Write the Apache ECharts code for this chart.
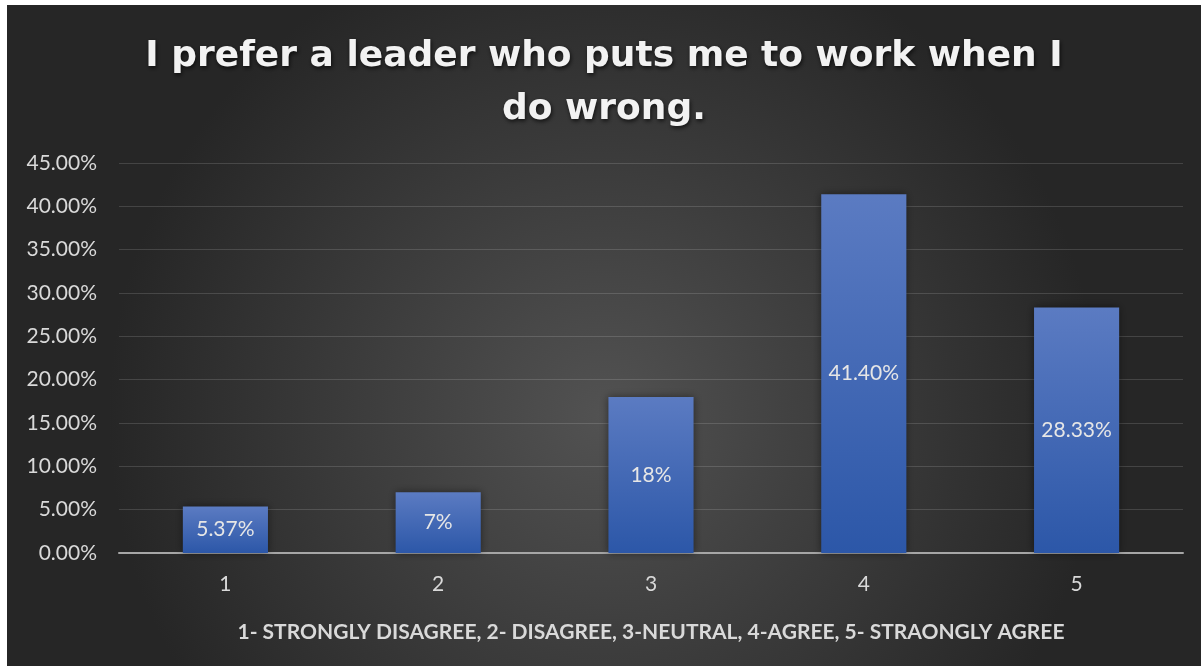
<!DOCTYPE html>
<html>
<head>
<meta charset="utf-8">
<script src="https://cdn.jsdelivr.net/npm/echarts@6/dist/echarts.min.js"></script>
<style>
  html, body { margin: 0; padding: 0; background: #ffffff; }
  #chart { position: absolute; left: 7px; top: 5px; width: 1194px; height: 661px; }
</style>
</head>
<body>
<div id="chart"></div>
<script>
// Survey responses, share of respondents per answer
const categories = ['1', '2', '3', '4', '5'];
const shares = [5.37, 7, 18, 41.40, 28.33];
const shareLabels = ['5.37%', '7%', '18%', '41.40%', '28.33%'];
const yTicks = { min: 0, max: 45, step: 5 };

const chart = echarts.init(document.getElementById('chart'));

const option = {
  backgroundColor: new echarts.graphic.RadialGradient(0.5, 0.62, 0.75, [
    { offset: 0, color: '#525252' },
    { offset: 1, color: '#262626' }
  ]),
  title: {
    text: 'I prefer a leader who puts me to work when I\ndo wrong.',
    left: 'center',
    top: 20,
    textStyle: {
      color: '#f2f2f2',
      fontFamily: 'DejaVu Sans',
      fontWeight: 'bold',
      fontSize: 36,
      lineHeight: 53,
      textShadowColor: 'rgba(0,0,0,0.7)',
      textShadowBlur: 4,
      textShadowOffsetY: 2,
      textShadowOffsetX: 1
    }
  },
  grid: { left: 112, right: 18, top: 158, bottom: 113, containLabel: false },
  xAxis: {
    type: 'category',
    data: categories,
    name: '1- STRONGLY DISAGREE, 2- DISAGREE, 3-NEUTRAL, 4-AGREE, 5- STRAONGLY AGREE',
    nameLocation: 'middle',
    nameGap: 69,
    nameTextStyle: {
      color: '#d9d9d9',
      fontFamily: 'Lato',
      fontWeight: 'bold',
      fontSize: 21
    },
    axisLine: { lineStyle: { color: '#a6a6a6', width: 2 } },
    axisTick: { show: false },
    axisLabel: { color: '#d9d9d9', fontFamily: 'Lato', fontSize: 21, margin: 21 }
  },
  yAxis: {
    type: 'value',
    min: yTicks.min,
    max: yTicks.max,
    interval: yTicks.step,
    axisLine: { show: false },
    axisTick: { show: false },
    splitLine: { lineStyle: { color: 'rgba(255,255,255,0.14)', width: 1 } },
    axisLabel: {
      color: '#d9d9d9',
      fontFamily: 'Lato',
      fontSize: 21,
      margin: 22,
      formatter: v => v.toFixed(2) + '%'
    }
  },
  series: [{
    type: 'bar',
    data: shares,
    barWidth: '40%',
    itemStyle: {
      color: new echarts.graphic.LinearGradient(0, 0, 0, 1, [
        { offset: 0, color: '#5b7bc2' },
        { offset: 1, color: '#2c57a8' }
      ]),
      shadowColor: 'rgba(0,0,0,0.45)',
      shadowBlur: 8
    },
    label: {
      show: true,
      position: 'inside',
      color: '#e6e6e6',
      fontFamily: 'Lato',
      fontSize: 21,
      formatter: p => shareLabels[p.dataIndex]
    }
  }]
};

chart.setOption(option);
</script>
</body>
</html>
